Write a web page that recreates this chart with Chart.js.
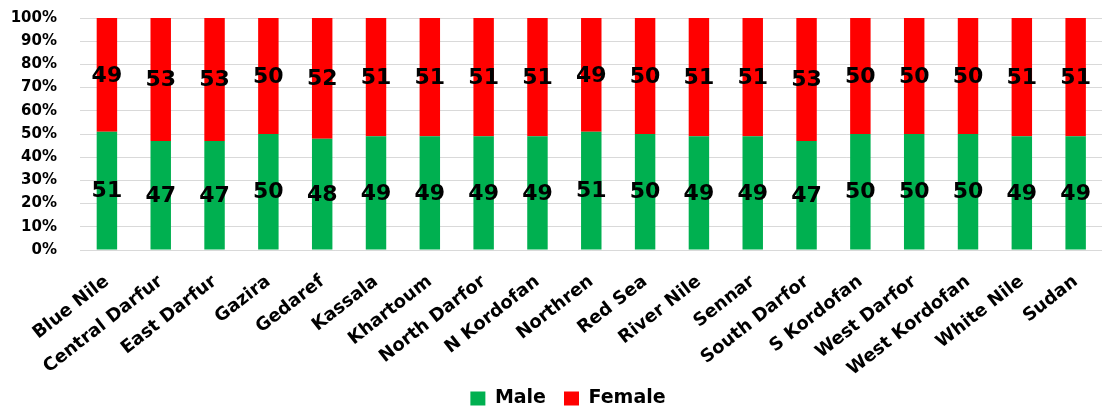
<!DOCTYPE html>
<html>
<head>
<meta charset="utf-8">
<script src="https://cdn.jsdelivr.net/npm/chart.js@4/dist/chart.umd.min.js"></script>
<style>
  html, body { margin: 0; padding: 0; background: #fff; overflow: hidden; }
  #wrap { width: 1102px; height: 409px; overflow: hidden; }
  canvas { display: block; }
</style>
</head>
<body>
<div id="wrap"><canvas id="chart" width="1110" height="409"></canvas></div>
<script>
const states = ["Blue Nile", "Central Darfur", "East Darfur", "Gazira", "Gedaref", "Kassala",
  "Khartoum", "North Darfor", "N Kordofan", "Northren", "Red Sea", "River Nile", "Sennar",
  "South Darfor", "S Kordofan", "West Darfor", "West Kordofan", "White Nile", "Sudan"];
const male   = [51, 47, 47, 50, 48, 49, 49, 49, 49, 51, 50, 49, 49, 47, 50, 50, 50, 49, 49];
const female = [49, 53, 53, 50, 52, 51, 51, 51, 51, 49, 50, 51, 51, 53, 50, 50, 50, 51, 51];
const yTicks = [0, 10, 20, 30, 40, 50, 60, 70, 80, 90, 100];

const FONT = "'DejaVu Sans', Verdana, sans-serif";

// numbers in the middle of each stacked segment
const segLabels = {
  id: "segLabels",
  afterDatasetsDraw(chart) {
    const ctx = chart.ctx;
    ctx.save();
    ctx.font = "bold 22px " + FONT;
    ctx.fillStyle = "#000";
    ctx.textAlign = "center";
    ctx.textBaseline = "middle";
    chart.data.datasets.forEach((ds, di) => {
      chart.getDatasetMeta(di).data.forEach((bar, i) => {
        ctx.fillText(String(ds.data[i]), bar.x, (bar.y + bar.base) / 2 + 1);
      });
    });
    ctx.restore();
  }
};

// legend row lower and a bit right; let the x labels run past their box
const fixLayout = {
  id: "fixLayout",
  afterLayout(chart) {
    const lg = chart.legend;
    const h = lg.bottom - lg.top;
    lg.top = 371; lg.bottom = 371 + h;
    lg.left += 14; lg.right += 14;
    chart.scales.x.bottom = 392;
  }
};

new Chart(document.getElementById("chart"), {
  type: "bar",
  data: {
    labels: states,
    datasets: [
      { label: "Male", data: male, backgroundColor: "#00B050" },
      { label: "Female", data: female, backgroundColor: "#FF0000" }
    ]
  },
  options: {
    responsive: false,
    animation: false,
    barPercentage: 0.38,
    categoryPercentage: 1,
    layout: { padding: { top: 18, right: 2, left: 0, bottom: 0 } },
    plugins: {
      legend: {
        position: "bottom",
        labels: {
          font: { family: FONT, size: 19, weight: "bold" },
          color: "#000",
          boxWidth: 15, boxHeight: 14, padding: 18
        }
      },
      tooltip: { enabled: false }
    },
    scales: {
      x: {
        stacked: true,
        grid: { display: false, drawTicks: false },
        border: { color: "#d9d9d9" },
        afterFit: axis => {
          axis.height = axis.chart.height - 250 - axis.chart.legend.height;
          axis.paddingTop = 0; axis.paddingBottom = 0;
        },
        ticks: {
          color: "#000", minRotation: 38, maxRotation: 38, autoSkip: false, padding: 21,
          font: { family: FONT, size: 18, weight: "bold" }
        }
      },
      y: {
        stacked: true,
        min: 0, max: 100,
        afterBuildTicks: axis => { axis.ticks = yTicks.map(v => ({ value: v })); },
        afterFit: axis => { axis.width = 80; axis.paddingTop = 0; axis.paddingBottom = 0; },
        grid: { color: "#d9d9d9", drawTicks: false },
        border: { display: false },
        ticks: {
          color: "#000", padding: 23,
          font: { family: FONT, size: 15, weight: "bold" },
          callback: v => v + "%"
        }
      }
    }
  },
  plugins: [segLabels, fixLayout]
});
</script>
</body>
</html>
